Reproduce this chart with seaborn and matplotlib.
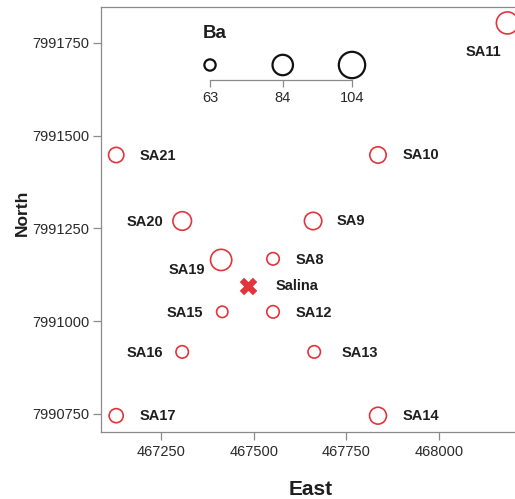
import matplotlib
matplotlib.use("Agg")
import matplotlib.pyplot as plt
import seaborn as sns
import pandas as pd

# ---- data ----
sites = ["SA21", "SA10", "SA11", "SA20", "SA9", "SA19", "SA8",
         "SA15", "SA12", "SA16", "SA13", "SA17", "SA14"]
east = [467129, 467835, 468184, 467307, 467660, 467412, 467552,
        467415, 467552, 467307, 467663, 467129, 467835]
north = [7991448, 7991448, 7991804, 7991270, 7991270, 7991165, 7991168,
         7991025, 7991025, 7990917, 7990917, 7990745, 7990745]
ba = [75, 79, 104, 88, 83, 100, 66, 63, 66, 66, 66, 71, 81]

salina_name = "Salina"
salina_east = [467485]
salina_north = [7991095]

legend_values = [63, 84, 104]
x_ticks = [467250, 467500, 467750, 468000]
y_ticks = [7990750, 7991000, 7991250, 7991500, 7991750]

# label placement (offset in points, alignment)
label_offsets = {
    "SA21": (17, -1, "left"), "SA10": (18, 0, "left"),
    "SA11": (-17, -21, "center"), "SA20": (-13.5, -1, "right"),
    "SA9": (17, 0, "left"), "SA19": (-11.5, -7.5, "right"),
    "SA8": (16.5, -1, "left"), "SA15": (-13.5, -1, "right"),
    "SA12": (16.5, -1, "left"), "SA16": (-14, -1, "right"),
    "SA13": (20, -1, "left"), "SA17": (16.5, 0, "left"),
    "SA14": (17.5, 0, "left"),
}

RED = "#e2343c"
GREY = "#8a8a8a"

sns.set_theme(style="white")
plt.rcParams["font.family"] = ["Liberation Sans", "DejaVu Sans"]

df = pd.DataFrame({"site": sites, "east": east, "north": north, "ba": ba})

W, H = 515, 499
fig = plt.figure(figsize=(W / 100, H / 100), dpi=100)
ax = fig.add_axes([101 / W, (H - 432) / H, (520 - 101) / W, (432 - 7) / H])

sns.scatterplot(data=df, x="east", y="north", size="ba", sizes=(67, 251),
                size_norm=(63, 104), legend=False, ax=ax, color=RED,
                linewidth=1.2, zorder=3)
coll = ax.collections[-1]
coll.set_facecolor("none")
coll.set_edgecolor(RED)
coll.set_linewidth(1.2)

sns.scatterplot(x=salina_east, y=salina_north, marker="X", s=160, color=RED,
                linewidth=0, ax=ax, legend=False, zorder=3)

for s, x, y in zip(sites, east, north):
    dx, dy, ha = label_offsets[s]
    ax.annotate(s, (x, y), xytext=(dx, dy), textcoords="offset points",
                ha=ha, va="center", fontsize=10.5, fontweight="bold",
                color="#1e1e1e")
ax.annotate(salina_name, (salina_east[0], salina_north[0]), xytext=(19.5, 0),
            textcoords="offset points", ha="left", va="center",
            fontsize=10.5, fontweight="bold", color="#1e1e1e")

ax.set_xlim(467088, 468218)
ax.set_ylim(7990701, 7991847)
ax.set_xticks(x_ticks)
ax.set_yticks(y_ticks)
ax.set_xticklabels([str(v) for v in x_ticks])
ax.set_yticklabels([str(v) for v in y_ticks])
ax.tick_params(axis="both", direction="out", length=5.5, width=0.9,
               color=GREY, labelsize=10.5, labelcolor="#2a2a2a", pad=3)
ax.tick_params(axis="x", pad=4)
ax.tick_params(left=True, bottom=True)
for side in ["left", "bottom", "top", "right"]:
    ax.spines[side].set_color(GREY)
    ax.spines[side].set_linewidth(0.9)
ax.set_xlabel("East", fontsize=15, fontweight="bold", labelpad=15, color="#1e1e1e")
ax.set_ylabel("North", fontsize=12.5, fontweight="bold", color="#1e1e1e")
ax.yaxis.set_label_coords(-0.169, 0.515)
ax.grid(False)

# ---- size legend (inset scale) ----
lx0, lx1 = 190, 375
lax = fig.add_axes([lx0 / W, (H - 80) / H, (lx1 - lx0) / W, 30 / H])
lax.patch.set_alpha(0)
sns.scatterplot(x=legend_values, y=[0.5] * len(legend_values),
                size=legend_values, sizes=(66, 360), size_norm=(63, 104),
                legend=False, ax=lax, color="black", zorder=3)
lc = lax.collections[-1]
lc.set_facecolor("none")
lc.set_edgecolor("#111111")
lc.set_linewidth(1.6)
lax.set_xlim(57.22, 110.64)
lax.set_ylim(0, 1)
for side in ["left", "top", "right"]:
    lax.spines[side].set_visible(False)
lax.spines["bottom"].set_color(GREY)
lax.spines["bottom"].set_linewidth(0.9)
lax.spines["bottom"].set_bounds(63, 104)
lax.set_xticks(legend_values)
lax.set_xticklabels([str(v) for v in legend_values])
lax.set_yticks([])
lax.tick_params(axis="x", direction="out", length=5, width=0.9, color=GREY,
                labelsize=10.5, labelcolor="#2a2a2a", pad=3, bottom=True)
lax.set_xlabel("")
lax.set_ylabel("")
fig.text(203 / W, 1 - 33 / H, "Ba", ha="left", va="center", fontsize=13.5,
         fontweight="bold", color="#1e1e1e")

fig.savefig("out.png", dpi=100)
